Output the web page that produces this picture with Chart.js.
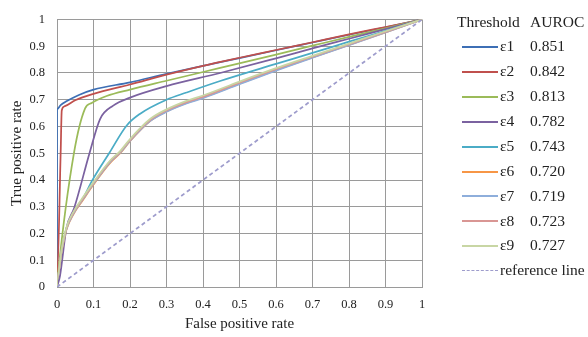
<!DOCTYPE html>
<html>
<head>
<meta charset="utf-8">
<script src="https://cdn.jsdelivr.net/npm/chart.js@4.4.1/dist/chart.umd.min.js"></script>
<style>
    html, body { margin: 0; padding: 0; background: #fff; }
    #wrap { position: relative; width: 588px; height: 337px; }
    #legend { position: absolute; left: 0; top: 0; font-family: "Liberation Serif", serif; color: #222; }
    #legend div { position: absolute; white-space: nowrap; line-height: 1; }
    #legend .swatch { height: 0; width: 36px; }
</style>
</head>
<body>
<div id="wrap">
    <canvas id="rocChart" width="588" height="337"></canvas>
    <div id="legend"></div>
</div>
<script>
// ROC points for each threshold, [false positive rate, true positive rate]
const e1 = [[0, 0], [0, 0.665], [0.01, 0.68], [0.027, 0.695], [0.06, 0.718], [0.1, 0.738], [0.2, 0.765], [0.3, 0.797], [0.4, 0.827], [0.5, 0.856], [0.6, 0.885], [0.7, 0.914], [0.8, 0.943], [0.9, 0.971], [1, 1]];
const e2 = [[0, 0], [0, 0.03], [0.01, 0.5], [0.013, 0.66], [0.02, 0.675], [0.05, 0.698], [0.1, 0.722], [0.2, 0.757], [0.3, 0.794], [0.4, 0.827], [0.5, 0.857], [0.6, 0.886], [0.7, 0.915], [0.8, 0.944], [0.9, 0.972], [1, 1]];
const e3 = [[0, 0], [0.003, 0.05], [0.047, 0.505], [0.077, 0.668], [0.095, 0.688], [0.136, 0.714], [0.2, 0.738], [0.3, 0.771], [0.447, 0.819], [0.6, 0.869], [0.7, 0.902], [0.8, 0.935], [0.9, 0.967], [1, 1]];
const e4 = [[0, 0], [0.008, 0.04], [0.026, 0.22], [0.047, 0.295], [0.09, 0.505], [0.118, 0.628], [0.154, 0.678], [0.2, 0.708], [0.3, 0.751], [0.447, 0.8], [0.6, 0.855], [0.7, 0.892], [0.8, 0.928], [0.9, 0.964], [1, 1]];
const e5 = [[0, 0], [0, 0.03], [0.013, 0.14], [0.026, 0.22], [0.045, 0.278], [0.072, 0.333], [0.095, 0.395], [0.145, 0.505], [0.191, 0.604], [0.227, 0.647], [0.3, 0.7], [0.355, 0.727], [0.447, 0.77], [0.6, 0.834], [0.7, 0.875], [0.8, 0.917], [0.9, 0.958], [1, 1]];
const e6 = [[0, 0], [0, 0.03], [0.013, 0.135], [0.026, 0.215], [0.045, 0.272], [0.072, 0.327], [0.1, 0.383], [0.145, 0.463], [0.173, 0.5], [0.2, 0.545], [0.255, 0.62], [0.3, 0.656], [0.355, 0.688], [0.4, 0.708], [0.5, 0.76], [0.6, 0.811], [0.7, 0.858], [0.8, 0.905], [0.9, 0.952], [1, 1]];
const e7 = [[0, 0], [0, 0.03], [0.013, 0.137], [0.026, 0.217], [0.045, 0.274], [0.072, 0.33], [0.1, 0.386], [0.145, 0.466], [0.173, 0.502], [0.2, 0.546], [0.255, 0.62], [0.3, 0.655], [0.355, 0.686], [0.4, 0.706], [0.5, 0.758], [0.6, 0.809], [0.7, 0.857], [0.8, 0.904], [0.9, 0.952], [1, 1]];
const e8 = [[0, 0], [0, 0.03], [0.013, 0.14], [0.026, 0.22], [0.045, 0.278], [0.072, 0.333], [0.1, 0.389], [0.145, 0.469], [0.173, 0.505], [0.2, 0.549], [0.255, 0.624], [0.3, 0.66], [0.355, 0.691], [0.4, 0.711], [0.5, 0.764], [0.6, 0.814], [0.7, 0.861], [0.8, 0.907], [0.9, 0.954], [1, 1]];
const e9 = [[0, 0], [0, 0.03], [0.013, 0.142], [0.026, 0.223], [0.045, 0.281], [0.072, 0.337], [0.1, 0.392], [0.145, 0.472], [0.173, 0.508], [0.2, 0.553], [0.255, 0.628], [0.3, 0.664], [0.355, 0.696], [0.4, 0.716], [0.5, 0.768], [0.6, 0.818], [0.7, 0.864], [0.8, 0.91], [0.9, 0.956], [1, 1]];
const refLine = [[0, 0], [1, 1]];

const thresholds = ['ε1', 'ε2', 'ε3', 'ε4', 'ε5', 'ε6', 'ε7', 'ε8', 'ε9'];
const auroc = ['0.851', '0.842', '0.813', '0.782', '0.743', '0.720', '0.719', '0.723', '0.727'];
const curves = [e1, e2, e3, e4, e5, e6, e7, e8, e9];
const colors = ['#3d6fb5', '#c0504d', '#9bbb59', '#7b62a0', '#4bacc6', '#f79646', '#8eaedb', '#d99694', '#c8d6a4'];
const refColor = '#9e9ccc';
const axisTicks = [0, 0.1, 0.2, 0.3, 0.4, 0.5, 0.6, 0.7, 0.8, 0.9, 1];

const font = '"Liberation Serif", "Times New Roman", serif';

const datasets = curves.map(function (pts, i) {
    return {
        label: thresholds[i],
        data: pts.map(p => ({ x: p[0], y: p[1] })),
        borderColor: colors[i],
        borderWidth: 1.75,
        showLine: true,
        pointRadius: 0,
        cubicInterpolationMode: 'monotone',
        order: -i
    };
});
datasets.push({
    label: 'reference line',
    data: refLine.map(p => ({ x: p[0], y: p[1] })),
    borderColor: refColor,
    borderWidth: 1.75,
    borderDash: [4, 3],
    showLine: true,
    pointRadius: 0,
    order: -20
});

function axis(titleText, fit) {
    return {
        type: 'linear',
        min: 0,
        max: 1,
        afterBuildTicks: s => { s.ticks = axisTicks.map(v => ({ value: v })); },
        afterFit: fit,
        grid: { color: '#9a9a9a', lineWidth: 1, drawTicks: false },
        border: { color: '#9a9a9a' },
        ticks: {
            color: '#222',
            font: { family: font, size: 12.5 },
            callback: v => String(+v.toFixed(1))
        },
        title: {
            display: true,
            text: titleText,
            color: '#222',
            font: { family: font, size: 15 }
        }
    };
}

const xAxis = axis('False positive rate', s => { s.height = 46; });
xAxis.ticks.padding = 10;
xAxis.title.padding = { top: 6, bottom: 0 };
const yAxis = axis('True positive rate', s => { s.width = 49; });
yAxis.ticks.padding = 12;
yAxis.title.padding = { top: 0, bottom: 2 };

new Chart(document.getElementById('rocChart'), {
    type: 'scatter',
    data: { datasets: datasets },
    options: {
        responsive: false,
        animation: false,
        layout: { padding: { left: 8, right: 166, top: 16, bottom: 4 } },
        plugins: { legend: { display: false }, tooltip: { enabled: false } },
        scales: { x: xAxis, y: yAxis }
    }
});

// Legend as a two column table: threshold and AUROC
const legend = document.getElementById('legend');
function addText(text, x, yc, size) {
    const d = document.createElement('div');
    d.textContent = text;
    d.style.left = x + 'px';
    d.style.top = (yc - size / 2 - 1) + 'px';
    d.style.fontSize = size + 'px';
    legend.appendChild(d);
}
function addSwatch(x, yc, color, dashed, w) {
    const d = document.createElement('div');
    d.className = 'swatch';
    d.style.left = x + 'px';
    d.style.top = (yc - 1) + 'px';
    d.style.borderTop = w + 'px ' + (dashed ? 'dashed ' : 'solid ') + color;
    legend.appendChild(d);
}
addText('Threshold', 457, 23, 15.5);
addText('AUROC', 530, 23, 15.5);
for (let i = 0; i < thresholds.length; i++) {
    const yc = 47 + i * 24.9;
    addSwatch(462, yc, colors[i], false, 2);
    addText(thresholds[i], 500, yc, 15.5);
    addText(auroc[i], 530, yc, 15.5);
}
addSwatch(462, 47 + 9 * 24.9, refColor, true, 1.5);
addText('reference line', 500, 47 + 9 * 24.9, 15.5);
</script>
</body>
</html>
